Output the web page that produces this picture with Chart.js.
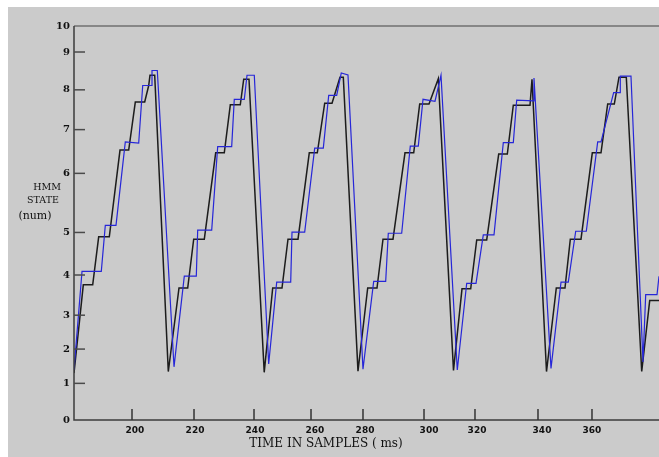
<!DOCTYPE html>
<html>
<head>
<meta charset="utf-8">
<script src="https://cdn.jsdelivr.net/npm/chart.js@4.4.1/dist/chart.umd.min.js"></script>
<style>
  html, body { margin: 0; padding: 0; background: #fff; }
</style>
</head>
<body>
<canvas id="chartHmm" width="659" height="457"></canvas>
<script>
// HMM state vs. time (samples)
const xBlack = [178.0, 181.18, 184.39, 186.44, 190.07, 193.73, 196.70, 198.96, 202.17, 203.54, 203.98, 205.59, 210.24,
  213.90, 216.87, 218.92, 222.55, 226.44, 229.38, 231.44, 234.85, 236.02, 237.83, 243.03,
  245.93, 249.11, 251.16, 254.58, 258.44, 261.18, 263.71, 266.21, 268.94, 270.07, 275.09,
  278.41, 281.59, 283.64, 287.06, 291.16, 294.14, 296.19, 299.37, 302.55, 307.74,
  310.65, 313.62, 315.68, 319.09, 323.20, 326.14, 328.19, 333.90, 334.58, 339.54,
  342.89, 345.86, 347.68, 351.33, 355.20, 358.17, 360.46, 362.72, 364.32, 366.82, 372.09, 374.82, 378.0];
const yBlack = [1.19, 3.43, 3.43, 4.65, 4.65, 6.85, 6.85, 8.07, 8.07, 8.49, 8.75, 8.75, 1.23,
  3.35, 3.35, 4.59, 4.59, 6.78, 6.78, 8.00, 8.00, 8.65, 8.65, 1.21,
  3.35, 3.35, 4.59, 4.59, 6.78, 6.78, 8.04, 8.04, 8.70, 8.70, 1.24,
  3.35, 3.35, 4.59, 4.59, 6.78, 6.78, 8.02, 8.02, 8.66, 1.26,
  3.33, 3.33, 4.57, 4.57, 6.75, 6.75, 7.99, 7.99, 8.65, 1.23,
  3.35, 3.35, 4.59, 4.59, 6.78, 6.78, 8.02, 8.02, 8.70, 8.70, 1.23, 3.03, 3.03];

const xBlue = [178.0, 180.74, 187.33, 188.70, 192.36, 195.54, 200.12, 201.49, 204.67, 204.67, 206.48, 212.19,
  215.71, 219.81, 220.29, 225.08, 227.13, 231.91, 232.80, 236.22, 237.15, 239.64, 244.56,
  247.30, 252.09, 252.53, 256.87, 260.29, 263.23, 265.08, 267.81, 269.38, 271.67, 276.80,
  280.46, 284.56, 285.45, 290.03, 292.97, 295.71, 297.32, 301.42, 303.47, 309.04,
  312.26, 315.44, 317.93, 321.59, 324.77, 328.19, 329.35, 335.03, 335.26, 341.08,
  344.50, 346.99, 349.52, 353.15, 357.04, 358.17, 362.50, 364.77, 364.77, 368.42, 372.53, 373.45, 377.32, 378.0];
const yBlue = [1.27, 3.77, 3.77, 4.94, 4.94, 7.06, 7.03, 8.49, 8.49, 8.87, 8.87, 1.35,
  3.65, 3.65, 4.82, 4.82, 6.94, 6.94, 8.14, 8.14, 8.75, 8.75, 1.42,
  3.50, 3.50, 4.77, 4.77, 6.90, 6.90, 8.24, 8.24, 8.81, 8.76, 1.29,
  3.52, 3.52, 4.74, 4.74, 6.95, 6.95, 8.14, 8.09, 8.75, 1.27,
  3.47, 3.47, 4.70, 4.70, 7.04, 7.04, 8.12, 8.10, 8.68, 1.31,
  3.50, 3.50, 4.79, 4.79, 7.06, 7.06, 8.31, 8.31, 8.73, 8.73, 1.47, 3.18, 3.18, 3.65];

// the original axes are hand drawn: labels are not evenly spaced
const xLabelPos = [198.85, 219.37, 239.88, 260.39, 277.49, 299.37, 315.78, 338.0, 355.09];
const xMarkPos = [197.83, 219.03, 239.54, 259.03, 276.80, 297.66, 315.09, 336.63, 355.09];
const xTickLabels = ['200', '220', '240', '260', '280', '300', '320', '340', '360'];
const yTickPos = [0, 0.93, 1.80, 2.66, 3.68, 4.76, 6.26, 7.37, 8.38, 9.34, 10];
const yTickLabels = ['0', '1', '2', '3', '4', '5', '6', '7', '8', '9', '10'];

const xMin = 178, xMax = 378;

function puntos(xs, ys) {
    return xs.map((x, i) => { return { x: x, y: ys[i] } })
}

const ejes = {
    id: 'ejes',
    beforeDraw(chart) {
        const ctx = chart.ctx
        ctx.save()
        ctx.fillStyle = '#ffffff'
        ctx.fillRect(0, 0, chart.width, chart.height)
        ctx.fillStyle = '#cbcbcb'
        ctx.fillRect(8, 7, chart.width - 8, chart.height - 7)
        ctx.restore()
    },
    afterDatasetsDraw(chart) {
        const ctx = chart.ctx
        const a = chart.chartArea
        const x = chart.scales.x
        const y = chart.scales.y
        ctx.save()

        // frame
        ctx.lineWidth = 1.5
        ctx.strokeStyle = '#707070'
        ctx.beginPath()
        ctx.moveTo(a.left, a.top)
        ctx.lineTo(a.right, a.top)
        ctx.stroke()
        ctx.strokeStyle = '#3c3c3c'
        ctx.beginPath()
        ctx.moveTo(a.left, a.top)
        ctx.lineTo(a.left, a.bottom)
        ctx.lineTo(a.right, a.bottom)
        ctx.stroke()

        // y ticks
        ctx.fillStyle = '#111'
        ctx.font = 'bold 10px "DejaVu Serif"'
        ctx.textAlign = 'right'
        ctx.textBaseline = 'middle'
        yTickPos.forEach((v, i) => {
            const py = y.getPixelForValue(v)
            if (i > 0 && i < yTickPos.length - 1) {
                ctx.strokeStyle = '#4a4a4a'
                ctx.beginPath()
                ctx.moveTo(a.left, py)
                ctx.lineTo(a.left + 11, py)
                ctx.stroke()
            }
            ctx.fillText(yTickLabels[i], a.left - 4, py)
        })

        // x ticks
        ctx.strokeStyle = '#333'
        xMarkPos.forEach((v) => {
            const px = x.getPixelForValue(v)
            ctx.beginPath()
            ctx.moveTo(px, a.bottom)
            ctx.lineTo(px, a.bottom - 11)
            ctx.stroke()
        })
        ctx.font = 'bold 9px "DejaVu Sans"'
        ctx.textAlign = 'center'
        xLabelPos.forEach((v, i) => {
            ctx.fillText(xTickLabels[i], x.getPixelForValue(v), a.bottom + 11)
        })

        // axis titles
        ctx.font = '12px "DejaVu Serif"'
        ctx.fillText('TIME IN SAMPLES ( ms)', 326, 444)
        ctx.font = '9.5px "DejaVu Serif"'
        ctx.fillText('HMM', 47, 188)
        ctx.fillText('STATE', 43, 201)
        ctx.font = '11px "DejaVu Serif"'
        ctx.fillText('(num)', 35, 216)

        ctx.restore()
    }
}

const data = {
    datasets: [{
        label: 'blue',
        data: puntos(xBlue, yBlue),
        borderColor: '#2626d8',
        borderWidth: 1.2
    }, {
        label: 'black',
        data: puntos(xBlack, yBlack),
        borderColor: '#1c1c1c',
        borderWidth: 1.5
    }]
};

const config = {
    type: 'line',
    data: data,
    options: {
        responsive: false,
        devicePixelRatio: 1,
        animation: false,
        layout: { padding: { left: 74, top: 26, right: 0, bottom: 37 } },
        elements: {
            point: { radius: 0 },
            line: { tension: 0 }
        },
        plugins: {
            legend: { display: false },
            tooltip: { enabled: false }
        },
        scales: {
            x: { type: 'linear', min: xMin, max: xMax, display: false },
            y: { type: 'linear', min: 0, max: 10, display: false }
        }
    },
    plugins: [ejes]
};

const graficoHmm = new Chart(document.getElementById('chartHmm'), config)
</script>
</body>
</html>
